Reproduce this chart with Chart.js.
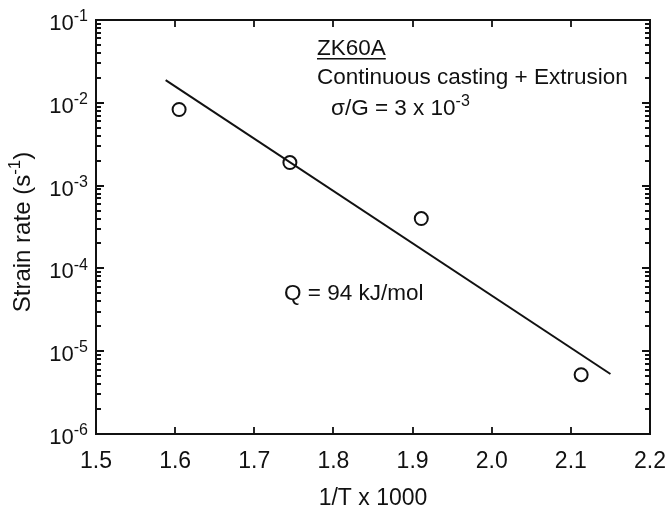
<!DOCTYPE html>
<html>
<head>
<meta charset="utf-8">
<script src="https://cdn.jsdelivr.net/npm/chart.js@4"></script>
<style>
  html, body { margin: 0; padding: 0; background: #fff; }
  canvas { display: block; }
</style>
</head>
<body>
<canvas id="chart" width="668" height="511"></canvas>
<script>
// measured points (1/T x 1000 vs strain rate)
const invT = [1.605, 1.745, 1.911, 2.113];
const strainRate = [8.3e-3, 1.9e-3, 4.0e-4, 5.2e-6];

// fitted Arrhenius line, two ends
const fitX = [1.588, 2.150];
const fitY = [1.88e-2, 5.3e-6];

const xTicks = [1.5, 1.6, 1.7, 1.8, 1.9, 2.0, 2.1, 2.2];
const xTickLabels = ["1.5", "1.6", "1.7", "1.8", "1.9", "2.0", "2.1", "2.2"];
const yExponents = [-1, -2, -3, -4, -5, -6];

const FONT = "'Liberation Sans', Arial, sans-serif";
const INK = "#111";

// superscript text helper: parts = [[text, isSup], ...], drawn left to right
function drawRich(c, parts, x, y, size, align) {
  const supSize = Math.round(size * 0.72);
  let total = 0;
  const widths = parts.map(([t, sup]) => {
    c.font = (sup ? supSize : size) + "px " + FONT;
    const w = c.measureText(t).width;
    total += w;
    return w;
  });
  let cx = align === "right" ? x - total : align === "center" ? x - total / 2 : x;
  c.textAlign = "left";
  c.textBaseline = "alphabetic";
  parts.forEach(([t, sup], i) => {
    c.font = (sup ? supSize : size) + "px " + FONT;
    c.fillText(t, cx, sup ? y - size * 0.4 : y);
    cx += widths[i];
  });
}

const axesPlugin = {
  id: "axesPlugin",
  afterDraw(chart) {
    const c = chart.ctx;
    const a = chart.chartArea;
    const xs = chart.scales.x;
    const ys = chart.scales.y;
    c.save();
    c.strokeStyle = INK;
    c.fillStyle = INK;
    c.lineWidth = 2;
    c.strokeRect(a.left, a.top, a.right - a.left, a.bottom - a.top);

    // x ticks, inward on bottom and top
    c.beginPath();
    xTicks.forEach(v => {
      const px = Math.round(xs.getPixelForValue(v));
      c.moveTo(px, a.bottom); c.lineTo(px, a.bottom - 7);
      c.moveTo(px, a.top); c.lineTo(px, a.top + 7);
    });
    // y ticks, log decades + minors, left and right
    yExponents.forEach(e => {
      for (let m = 1; m <= 9; m++) {
        if (e === -1 && m > 1) break;
        const v = m * Math.pow(10, e);
        const py = Math.round(ys.getPixelForValue(v));
        const len = m === 1 ? 8 : 5;
        c.moveTo(a.left, py); c.lineTo(a.left + len, py);
        c.moveTo(a.right, py); c.lineTo(a.right - len, py);
      }
    });
    c.lineWidth = 1.8;
    c.stroke();

    // x tick labels
    c.font = "23px " + FONT;
    c.textAlign = "center";
    c.textBaseline = "alphabetic";
    xTicks.forEach((v, i) => {
      c.fillText(xTickLabels[i], xs.getPixelForValue(v), 468);
    });

    // y tick labels 10^n
    yExponents.forEach(e => {
      const py = ys.getPixelForValue(Math.pow(10, e));
      drawRich(c, [["10", false], ["-" + Math.abs(e), true]], 88, py + 10, 22, "right");
    });

    // axis titles
    c.font = "23px " + FONT;
    c.textAlign = "center";
    c.fillText("1/T x 1000", (a.left + a.right) / 2, 505);

    c.save();
    c.translate(30, 232);
    c.rotate(-Math.PI / 2);
    drawRich(c, [["Strain rate (s", false], ["-1", true], [")", false]], 0, 0, 24, "center");
    c.restore();

    // annotations
    c.font = "22.5px " + FONT;
    c.textAlign = "left";
    c.fillText("ZK60A", 317, 55);
    const w = c.measureText("ZK60A").width;
    c.fillRect(317, 58, w, 1.5);
    c.fillText("Continuous casting + Extrusion", 317, 84);
    drawRich(c, [["\u03c3/G = 3 x 10", false], ["-3", true]], 331, 115, 22.5, "left");
    c.font = "22.5px " + FONT;
    c.textAlign = "left";
    c.fillText("Q = 94 kJ/mol", 284, 300);
    c.restore();
  }
};

new Chart(document.getElementById("chart"), {
  type: "scatter",
  data: {
    datasets: [
      {
        label: "fit",
        data: fitX.map((x, i) => ({ x, y: fitY[i] })),
        showLine: true,
        borderColor: INK,
        borderWidth: 2,
        pointRadius: 0
      },
      {
        label: "data",
        data: invT.map((x, i) => ({ x, y: strainRate[i] })),
        pointRadius: 6.5,
        pointBackgroundColor: "#fff",
        pointBorderColor: INK,
        pointBorderWidth: 2
      }
    ]
  },
  options: {
    responsive: false,
    animation: false,
    layout: { padding: { left: 96, top: 20, right: 18, bottom: 77 } },
    plugins: { legend: { display: false }, tooltip: { enabled: false } },
    scales: {
      x: { type: "linear", min: 1.5, max: 2.2, display: false },
      y: { type: "logarithmic", min: 1e-6, max: 1e-1, display: false }
    }
  },
  plugins: [axesPlugin]
});
</script>
</body>
</html>
